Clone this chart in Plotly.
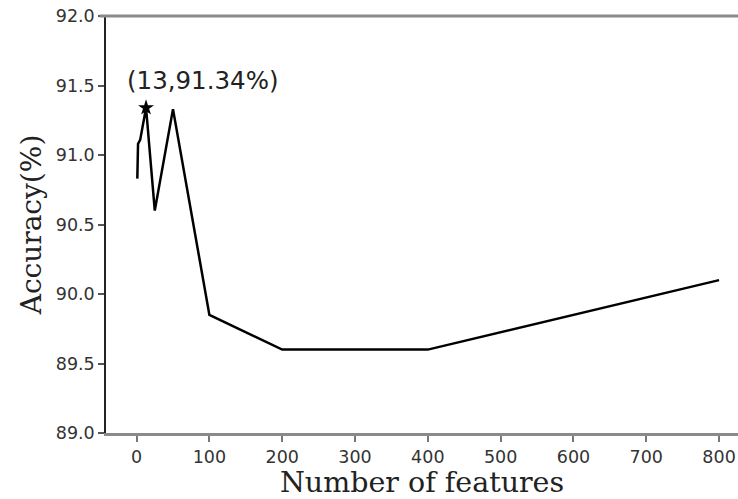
import plotly.graph_objects as go

features = [1, 2, 5, 13, 25, 50, 100, 200, 400, 800]
accuracy = [90.83, 91.08, 91.11, 91.34, 90.60, 91.33, 89.85, 89.60, 89.60, 90.10]
best_x = 13
best_y = 91.34
best_label = "(13,91.34%)"
x_ticks = [0, 100, 200, 300, 400, 500, 600, 700, 800]
y_ticks = [89.0, 89.5, 90.0, 90.5, 91.0, 91.5, 92.0]

fig = go.Figure()
fig.add_trace(go.Scatter(x=features, y=accuracy, mode="lines",
                         line=dict(color="black", width=2.5), showlegend=False))
fig.add_trace(go.Scatter(x=[best_x], y=[best_y], mode="markers",
                         marker=dict(symbol="star", size=12, color="black"),
                         showlegend=False))
fig.add_annotation(x=best_x, y=best_y, text=best_label, showarrow=False,
                   xref="x", yref="y", xanchor="left", yanchor="middle",
                   xshift=-21, yshift=27,
                   font=dict(family="DejaVu Sans", size=24.5, color="#222"))

tick_font = dict(family="DejaVu Sans", size=17.5, color="#333")
fig.update_xaxes(range=[-42, 826], tickvals=x_ticks, ticktext=[str(v) for v in x_ticks],
                 showgrid=False, zeroline=False, showline=True, linecolor="#8a8a8a",
                 linewidth=3, ticks="outside", ticklen=6, tickwidth=1.5, tickcolor="#777",
                 tickfont=tick_font, ticklabeloverflow="allow",
                 title=dict(text="Number of features", standoff=2,
                            font=dict(family="DejaVu Serif", size=28.5, color="#222")))
fig.update_yaxes(range=[89, 92], tickvals=y_ticks, ticktext=[f"{v:.1f}" for v in y_ticks],
                 showgrid=False, zeroline=False, showline=True, linecolor="#222",
                 linewidth=1.5, ticks="outside", ticklen=6, tickwidth=1.5, tickcolor="#555",
                 tickfont=tick_font, ticklabeloverflow="allow",
                 title=dict(text="Accuracy(%)", standoff=6,
                            font=dict(family="DejaVu Serif", size=28, color="#222")))
fig.add_shape(type="line", xref="paper", yref="paper", x0=-0.01, x1=1, y0=1, y1=1,
              line=dict(color="#8a8a8a", width=3))
fig.update_layout(width=738, height=499, margin=dict(l=106, r=0, t=16, b=66),
                  plot_bgcolor="white", paper_bgcolor="white")
fig.write_html("out.html", config={"displayModeBar": False},
               post_script="document.body.style.margin='0';document.body.style.overflow='hidden';")
